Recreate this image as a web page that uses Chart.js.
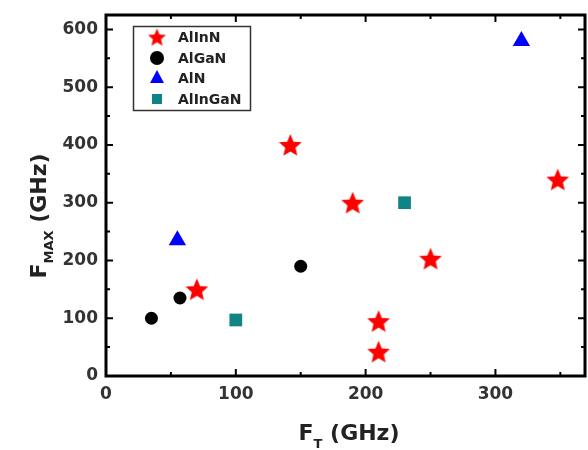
<!DOCTYPE html>
<html>
<head>
<meta charset="utf-8">
<script src="https://cdn.jsdelivr.net/npm/chart.js@4/dist/chart.umd.min.js"></script>
<style>
  html, body { margin: 0; padding: 0; background: #fff; }
  #wrap { width: 588px; height: 450px; }
</style>
</head>
<body>
<div id="wrap"><canvas id="diagram"></canvas></div>
<script>
// values (GHz)
const alinnX = [70, 142, 190, 210, 210, 250, 348];
const alinnY = [150, 400, 300, 95, 42, 203, 340];
const alganX = [35, 57, 150];
const alganY = [100, 135, 190];
const alnX = [55, 320];
const alnY = [235, 580];
const alingaX = [100, 230];
const alingaY = [97, 300];

const seriesNames = ['AlInN', 'AlGaN', 'AlN', 'AlInGaN'];
const seriesColors = ['#ff0000', '#000000', '#0000ff', '#108484'];
const xTicks = [0, 100, 200, 300];
const yTicks = [0, 100, 200, 300, 400, 500, 600];

const xMax = 369;
const yMax = 625;

function pontok(xs, ys) {
    return xs.map((x, i) => ({ x: x, y: ys[i] }));
}

// filled five point star, chart.js 'star' is only an asterisk
function csillag(R, szin) {
    const c = document.createElement('canvas');
    const s = Math.ceil(R * 2) + 4;
    c.width = s; c.height = s;
    const g = c.getContext('2d');
    g.fillStyle = szin;
    g.beginPath();
    for (let i = 0; i < 10; i++) {
        const r = i % 2 === 0 ? R : R * 0.45;
        const a = -Math.PI / 2 + i * Math.PI / 5;
        g.lineTo(s / 2 + r * Math.cos(a), s / 2 + 1 + r * Math.sin(a));
    }
    g.closePath();
    g.fill();
    return c;
}

const nagyCsillag = csillag(12, seriesColors[0]);
const kisCsillag = csillag(9.5, seriesColors[0]);

const keretPlugin = {
    id: 'keret',
    afterDraw(chart) {
        const ctx = chart.ctx;
        const a = chart.chartArea;
        const xs = chart.scales.x, ys = chart.scales.y;
        ctx.save();
        ctx.strokeStyle = '#000';
        ctx.lineWidth = 3;
        ctx.strokeRect(a.left, a.top, a.right - a.left, a.bottom - a.top);

        // inward ticks on all four sides
        ctx.lineWidth = 2;
        ctx.beginPath();
        for (let v = 0; v <= xMax; v += 50) {
            const p = xs.getPixelForValue(v);
            const h = v % 100 === 0 ? 7 : 4;
            ctx.moveTo(p, a.bottom); ctx.lineTo(p, a.bottom - h);
            ctx.moveTo(p, a.top); ctx.lineTo(p, a.top + h);
        }
        for (let v = 0; v <= yMax; v += 50) {
            const p = ys.getPixelForValue(v);
            const h = v % 100 === 0 ? 7 : 4;
            ctx.moveTo(a.left, p); ctx.lineTo(a.left + h, p);
            ctx.moveTo(a.right, p); ctx.lineTo(a.right - h, p);
        }
        ctx.stroke();

        // axis titles with subscripts
        ctx.fillStyle = '#222';
        ctx.textBaseline = 'alphabetic';
        ctx.textAlign = 'left';
        const nagy = 'bold 22px "DejaVu Sans"';
        const kis = 'bold 13px "DejaVu Sans"';

        // x title: F_T (GHz)
        ctx.font = nagy;
        const wF = ctx.measureText('F').width;
        ctx.font = kis;
        const wT = ctx.measureText('T').width;
        ctx.font = nagy;
        const wG = ctx.measureText(' (GHz)').width;
        let x0 = 349 - (wF + wT + wG) / 2;
        const by = 440;
        ctx.fillText('F', x0, by);
        ctx.font = kis;
        ctx.fillText('T', x0 + wF, by + 8);
        ctx.font = nagy;
        ctx.fillText(' (GHz)', x0 + wF + wT, by);

        // y title: F_MAX (GHz), rotated
        ctx.save();
        ctx.translate(46, 216);
        ctx.rotate(-Math.PI / 2);
        ctx.font = kis;
        const wM = ctx.measureText('MAX').width;
        let y0 = -(wF + wM + wG) / 2;
        ctx.font = nagy;
        ctx.fillText('F', y0, 0);
        ctx.font = kis;
        ctx.fillText('MAX', y0 + wF, 7);
        ctx.font = nagy;
        ctx.fillText(' (GHz)', y0 + wF + wM, 0);
        ctx.restore();

        // legend box
        ctx.strokeStyle = '#333';
        ctx.lineWidth = 1.5;
        ctx.strokeRect(133.5, 26.5, 117, 84);
        ctx.font = 'bold 14px "DejaVu Sans"';
        ctx.textBaseline = 'middle';
        const sorY = [37, 58, 78, 99];
        const mx = 157;
        seriesNames.forEach((nev, i) => {
            const y = sorY[i];
            ctx.fillStyle = seriesColors[i];
            ctx.beginPath();
            if (i === 0) {
                ctx.drawImage(kisCsillag, mx - kisCsillag.width / 2, y - kisCsillag.height / 2);
            } else if (i === 1) {
                ctx.arc(mx, y, 7, 0, Math.PI * 2);
                ctx.fill();
            } else if (i === 2) {
                ctx.moveTo(mx, y - 8);
                ctx.lineTo(mx + 7, y + 5);
                ctx.lineTo(mx - 7, y + 5);
                ctx.closePath();
                ctx.fill();
            } else {
                ctx.fillRect(mx - 5, y - 5, 10, 10);
            }
            ctx.fillStyle = '#222';
            ctx.fillText(nev, 178, y + 1);
        });
        ctx.restore();
    }
};

new Chart(document.getElementById('diagram').getContext('2d'), {
    type: 'scatter',
    data: {
        datasets: [
            {
                label: seriesNames[0],
                data: pontok(alinnX, alinnY),
                pointStyle: nagyCsillag,
                backgroundColor: seriesColors[0]
            },
            {
                label: seriesNames[1],
                data: pontok(alganX, alganY),
                pointStyle: 'circle',
                radius: 6.5,
                borderWidth: 0,
                backgroundColor: seriesColors[1]
            },
            {
                label: seriesNames[2],
                data: pontok(alnX, alnY),
                pointStyle: 'triangle',
                radius: 10,
                borderWidth: 0,
                backgroundColor: seriesColors[2]
            },
            {
                label: seriesNames[3],
                data: pontok(alingaX, alingaY),
                pointStyle: 'rect',
                radius: 9,
                borderWidth: 0,
                backgroundColor: seriesColors[3]
            }
        ]
    },
    options: {
        responsive: true,
        maintainAspectRatio: false,
        animation: false,
        layout: { autoPadding: false, padding: { top: 15, right: 3, left: 0, bottom: 0 } },
        plugins: {
            legend: { display: false },
            tooltip: { enabled: false }
        },
        scales: {
            x: {
                type: 'linear',
                min: 0,
                max: xMax,
                grid: { display: false, drawTicks: false },
                border: { display: false },
                afterFit(s) {
                    s.height = 74;
                    s.paddingLeft = 0;
                    s.paddingRight = 0;
                },
                afterBuildTicks(s) { s.ticks = xTicks.map(v => ({ value: v })); },
                ticks: {
                    padding: 8,
                    color: '#333',
                    font: { family: 'DejaVu Sans', size: 17, weight: 'bold' }
                }
            },
            y: {
                type: 'linear',
                min: 0,
                max: yMax,
                grid: { display: false, drawTicks: false },
                border: { display: false },
                afterFit(s) {
                    s.width = 106;
                    s.paddingTop = 0;
                    s.paddingBottom = 0;
                },
                afterBuildTicks(s) { s.ticks = yTicks.map(v => ({ value: v })); },
                ticks: {
                    padding: 8,
                    color: '#333',
                    font: { family: 'DejaVu Sans', size: 17, weight: 'bold' }
                }
            }
        }
    },
    plugins: [keretPlugin]
});
</script>
</body>
</html>
